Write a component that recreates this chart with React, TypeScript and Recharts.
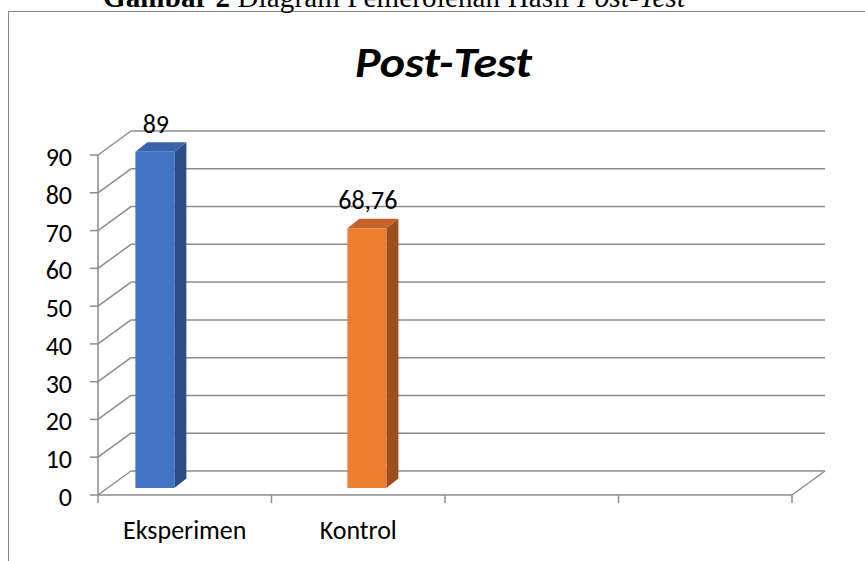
import { BarChart, Bar, XAxis, YAxis, CartesianGrid } from "recharts"

// data grafik post-test
const kategori = ["Eksperimen", "Kontrol", "", ""]
const nilaiPostTest: (number | null)[] = [89, 68.76, null, null]
const tickY = [0, 10, 20, 30, 40, 50, 60, 70, 80, 90]

const data = kategori.map((k, i) => ({ kategori: k, nilai: nilaiPostTest[i] }))

// efek 3D ala Excel
const DX = 33 // geser dinding belakang
const DY = -24
const BAR_K = 1.222 // perspektif kolom
const BAR_C = 318
const BAR_LIFT = -7
const BAR_DX = 12
const BAR_DY = -9.5

const warna = [
  { depan: "#4472c4", samping: "#2d4d86", atas: "#3a63ad" },
  { depan: "#ed7d31", samping: "#9c4f1d", atas: "#c2632b" },
]

const abu = "#8c8c8c"
const fontSans = "Calibri, Carlito, Lato, sans-serif"
const fontSize = 26

const fmt = (v: number) => String(v).replace(".", ",")

const proyeksiX = (x: number, w: number) => BAR_C + (x + w / 2 - BAR_C) * BAR_K - w / 2

function Kolom(props: any) {
  const { x, y, width, height, index } = props
  if (!height || height <= 0) return null
  const c = warna[index % warna.length]
  const l = proyeksiX(x, width)
  const r = l + width
  const t = y + BAR_LIFT
  const b = y + height + BAR_LIFT
  return (
    <g>
      <polygon
        points={`${r},${t} ${r + BAR_DX},${t + BAR_DY} ${r + BAR_DX},${b + BAR_DY} ${r},${b}`}
        fill={c.samping}
      />
      <polygon
        points={`${l},${t} ${l + BAR_DX},${t + BAR_DY} ${r + BAR_DX},${t + BAR_DY} ${r},${t}`}
        fill={c.atas}
      />
      <rect x={l} y={t} width={width} height={b - t} fill={c.depan} />
    </g>
  )
}

function LabelNilai(props: any) {
  const { x, y, width, value } = props
  if (value == null) return null
  const l = proyeksiX(x, width)
  return (
    <text x={l + width / 2 + 1} y={y + BAR_LIFT - 19} textAnchor="middle" fontFamily={fontSans} fontSize={fontSize} fill="#000">
      {fmt(Number(value))}
    </text>
  )
}

function GarisGrid(props: any) {
  const { x1, x2, y1 } = props
  return (
    <g>
      <line x1={x1} y1={y1} x2={x1 + DX} y2={y1 + DY} stroke={abu} strokeWidth={1.5} />
      <line x1={x1 + DX} y1={y1 + DY} x2={x2 + DX} y2={y1 + DY} stroke={abu} strokeWidth={1.5} />
    </g>
  )
}

function TickX(props: any) {
  const { x, y, payload, index, width } = props
  const half = payload?.offset ? payload.offset : width / kategori.length / 2
  const terakhir = index === kategori.length - 1
  return (
    <g>
      <line x1={x - half} y1={y} x2={x - half} y2={y + 8} stroke={abu} strokeWidth={1.5} />
      {terakhir && (
        <>
          <line x1={x + half} y1={y} x2={x + half} y2={y + 8} stroke={abu} strokeWidth={1.5} />
          <line x1={x + half} y1={y} x2={x + half + DX} y2={y + DY} stroke={abu} strokeWidth={1.5} />
        </>
      )}
      {payload.value ? (
        <text x={x} y={y + 44} textAnchor="middle" fontFamily={fontSans} fontSize={fontSize} fill="#000">
          {payload.value}
        </text>
      ) : null}
    </g>
  )
}

function TickY(props: any) {
  const { x, y, payload } = props
  return (
    <g>
      <line x1={x - 8} y1={y} x2={x} y2={y} stroke={abu} strokeWidth={1.5} />
      <text x={x - 26} y={y + 11} textAnchor="end" fontFamily={fontSans} fontSize={fontSize} fill="#000">
        {payload.value}
      </text>
    </g>
  )
}

export default function App() {
  return (
    <div style={{ position: "absolute", left: 0, top: 0, width: 865, height: 561, overflow: "hidden", background: "#fff" }}>
      {/* bingkai grafik */}
      <div
        style={{
          position: "absolute",
          left: 8,
          top: 11,
          width: 900,
          height: 600,
          borderTop: "1px solid #8a8a8a",
          borderLeft: "1px solid #8a8a8a",
        }}
      />
      <svg width={865} height={100} style={{ position: "absolute", left: 0, top: 0 }}>
        <text x={103} y={7} fontFamily="'Liberation Serif', 'Times New Roman', serif" fontSize={29} fill="#000" textLength={582} lengthAdjust="spacing">
          <tspan fontWeight="bold">Gambar 2</tspan> Diagram Pemerolehan Hasil <tspan fontStyle="italic">Post-Test</tspan>
        </text>
        <text x={443.5} y={77} textAnchor="middle" fontFamily={fontSans} fontWeight="bold" fontStyle="italic" fontSize={42} fill="#000" textLength={177} lengthAdjust="spacingAndGlyphs">
          Post-Test
        </text>
      </svg>
      <div style={{ position: "absolute", left: 0, top: 0 }}>
        <BarChart width={865} height={561} data={data} margin={{ top: 155, right: 73, bottom: 0, left: 0 }}>
          <CartesianGrid vertical={false} horizontal={GarisGrid as any} />
          <XAxis
            dataKey="kategori"
            height={66}
            interval={0}
            tickSize={0}
            tickMargin={0}
            tickLine={false}
            axisLine={{ stroke: abu, strokeWidth: 1.5 }}
            tick={TickX}
          />
          <YAxis
            domain={[0, 90]}
            ticks={tickY}
            width={98}
            tickSize={0}
            tickMargin={0}
            tickLine={false}
            axisLine={{ stroke: abu, strokeWidth: 1.5 }}
            tick={TickY}
          />
          <Bar dataKey="nilai" barSize={39} shape={Kolom} label={LabelNilai} isAnimationActive={false} />
        </BarChart>
      </div>
    </div>
  )
}
